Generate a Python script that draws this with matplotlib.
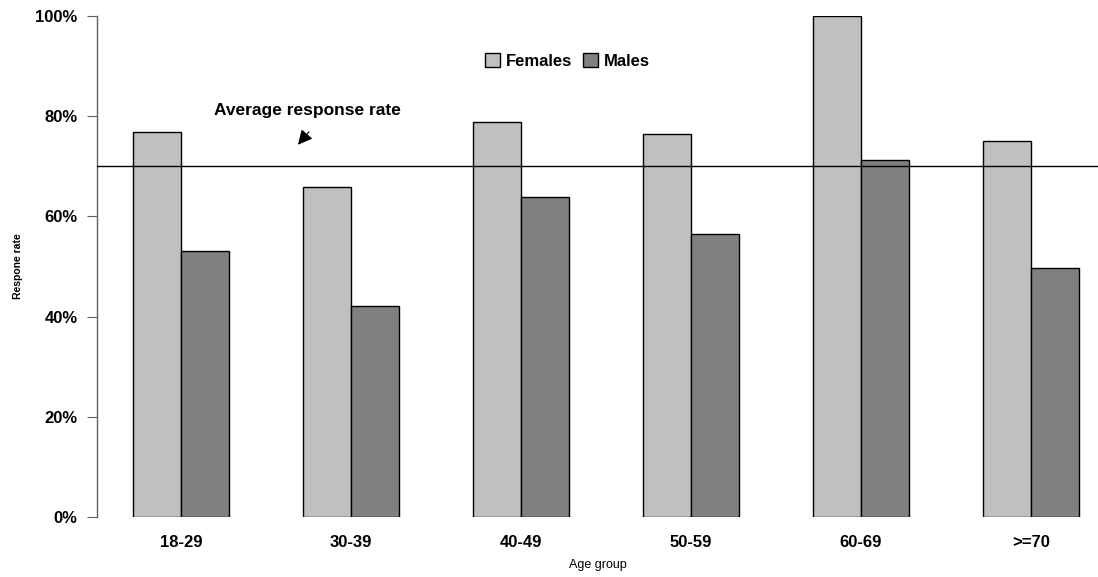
import matplotlib
matplotlib.use("Agg")
import matplotlib.pyplot as plt
from matplotlib.ticker import FuncFormatter
import numpy as np

age_groups = ["18-29", "30-39", "40-49", "50-59", "60-69", ">=70"]
females = [76.8, 65.8, 78.9, 76.5, 100.0, 75.0]
males = [53.0, 42.1, 63.8, 56.4, 71.3, 49.8]
average_rate = 70.0
y_ticks = [0, 20, 40, 60, 80, 100]

plt.rcParams["font.family"] = ["Liberation Sans", "DejaVu Sans"]

fig = plt.figure(figsize=(10.98, 5.77), dpi=100)
ax = fig.add_axes([97 / 1098, 60 / 577, 1001 / 1098, 501 / 577])

x = np.arange(len(age_groups))
w = 0.285
ax.bar(x - w / 2, females, w, color="#C0C0C0", edgecolor="black", linewidth=1.0,
       label="Females", zorder=2)
ax.bar(x + w / 2, males, w, color="#808080", edgecolor="black", linewidth=1.0,
       label="Males", zorder=2)

ax.axhline(average_rate, color="black", linewidth=1.0, zorder=3)

ax.set_xlim(-0.494, 5.394)
ax.set_ylim(0, 100)
ax.set_yticks(y_ticks)
ax.yaxis.set_major_formatter(FuncFormatter(lambda v, p: f"{v:.0f}%"))
ax.set_xticks(x)
ax.set_xticklabels(age_groups, fontsize=12, fontweight="bold")
for lbl in ax.get_yticklabels():
    lbl.set_fontsize(12)
    lbl.set_fontweight("bold")

for s in ["top", "right", "bottom"]:
    ax.spines[s].set_visible(False)
ax.spines["left"].set_color("#606060")
ax.spines["left"].set_linewidth(1.0)
ax.tick_params(axis="y", length=7, color="#606060", pad=7)
ax.tick_params(axis="x", length=0, pad=13)

ax.set_xlabel("Age group", fontsize=9)
ax.xaxis.set_label_coords(0.5, -0.084)
ax.set_ylabel("Respone rate", fontsize=7.5, fontweight="bold")
ax.yaxis.set_label_coords(-0.074, 0.5)

ax.text(0.741, 81.1, "Average response rate", fontsize=12.5, fontweight="bold",
        ha="center", va="center")
ax.annotate("", xy=(0.688, 74.3), xytext=(0.753, 76.9),
            arrowprops=dict(arrowstyle="-|>", color="black", lw=0.8,
                            mutation_scale=22, shrinkA=0, shrinkB=0))

leg = ax.legend(loc="center", bbox_to_anchor=(0.47, 0.91), ncol=2, frameon=False,
                prop={"weight": "bold", "size": 12}, handlelength=0.9,
                handleheight=0.9, handletextpad=0.4, columnspacing=0.6)

fig.savefig("out.png", dpi=100)
